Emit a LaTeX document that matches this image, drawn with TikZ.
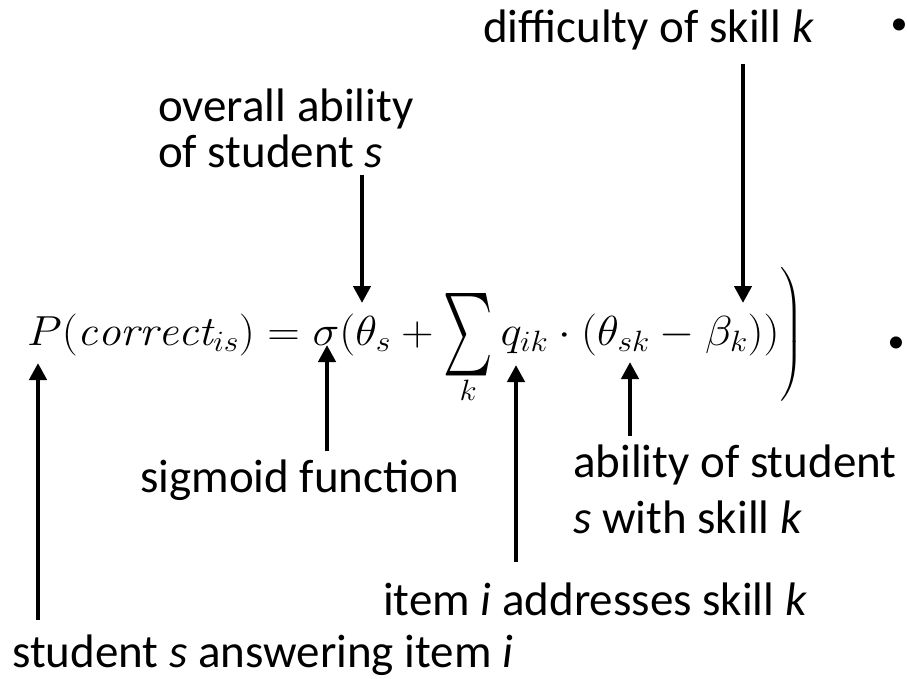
\documentclass[tikz,border=0pt]{standalone}
\usepackage{fix-cm}
\usepackage{exscale}
\usepackage{amsmath}
\usepackage{graphicx}
\usepackage{fontspec}
\newfontfamily\lblfont{Carlito}
\newcommand{\bigsum}{\mathop{\vcenter{\hbox{\resizebox{46pt}{76pt}{$\sum$}}}}\limits}
\usetikzlibrary{arrows.meta, positioning}

\begin{document}
\begin{tikzpicture}[x=1pt, y=-1pt,
    lbl/.style={font=\lblfont\fontsize{47}{46}\selectfont, inner sep=0pt, align=left},
    dot/.style={font=\lblfont\fontsize{34}{34}\selectfont, inner sep=0pt},
    arrow/.style={-{Triangle[length=17pt, width=17pt]}, line width=4.5pt}
]
    \useasboundingbox (0,0) rectangle (907,679);

    % the model
    \node[anchor=base west, inner sep=0pt] (formula) at (27,345)
        {\scalebox{1.075}[1]{\fontsize{42}{50}\selectfont $\displaystyle P(\mathit{correct}_{is}) = \sigma(\theta_s + \bigsum_k q_{ik}\cdot(\theta_{sk}-\beta_k))\mkern-3mu\left.\rule[-52pt]{0pt}{124pt}\right)$}};
    \node[dot] (dotA) at (899,27) {\textbullet};
    \node[dot] (dotB) at (896,345) {\textbullet};

    % where the arrows point
    \coordinate (tTheta) at (362,303);
    \coordinate (tBeta) at (743,303);
    \coordinate (tSigma) at (327,345);
    \coordinate (tQ) at (516,365);
    \coordinate (tThetaSk) at (630,362);
    \coordinate (tP) at (38,363);

    \node[lbl, anchor=base west] (diff) at (483,43) {difficulty of skill \textit{k}};
    \node[lbl, anchor=base west] (ovr) at (158,168) {overall ability\\of student \textit{s}};
    \node[lbl, anchor=base west] (sigm) at (140,492) {sigmoid function};
    \node[lbl, anchor=base west] (abil) at (573,533) {ability of student\\[10pt]\textit{s} with skill \textit{k}};
    \node[lbl, anchor=base west] (item) at (383,615) {item \textit{i} addresses skill \textit{k}};
    \node[lbl, anchor=base west] (stud) at (12,667) {student \textit{s} answering item \textit{i}};

    \draw[arrow, shorten <=13pt] (diff.south -| tBeta) -- (tBeta);
    \draw[arrow, shorten <=6pt] (ovr.south -| tTheta) -- (tTheta);
    \draw[arrow, shorten <=8pt] (sigm.north -| tSigma) -- (tSigma);
    \draw[arrow, shorten <=8pt] (abil.north -| tThetaSk) -- (tThetaSk);
    \draw[arrow, shorten <=20pt] (item.north -| tQ) -- (tQ);
    \draw[arrow, shorten <=14pt] (stud.north -| tP) -- (tP);
\end{tikzpicture}
\end{document}
